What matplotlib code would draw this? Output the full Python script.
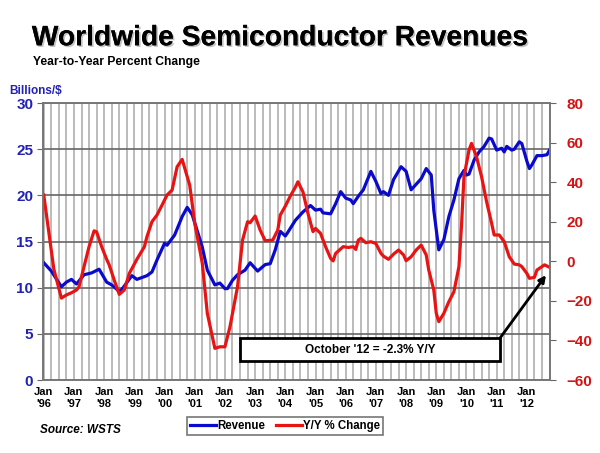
import matplotlib.pyplot as plt
import matplotlib.patheffects as pe
from matplotlib.patches import Rectangle
import numpy as np

plt.rcParams['font.family'] = ['Liberation Sans', 'DejaVu Sans']

# month index: 0 = Jan '96
rev_month = [0, 3, 7, 9, 11, 13, 16, 19, 22, 25, 27, 30, 31, 35, 37, 41, 43, 45, 48, 49,
             52, 55, 57, 59, 63, 65, 68, 70, 72, 73, 75, 77, 80, 82, 85, 88, 90, 92, 94, 96,
             97, 100, 103, 106, 108, 110, 111, 114, 116, 118, 120, 122, 123, 125, 127, 130,
             132, 134, 135, 137, 139, 142, 144, 146, 148, 150, 152, 154, 155, 157, 159, 161,
             163, 165, 167, 168, 169, 171, 173, 175, 177, 178, 180, 182, 183, 184, 186, 187,
             189, 190, 192, 193, 194, 196, 198, 200, 201]
rev_value = [12.7, 11.8, 10.1, 10.6, 10.9, 10.4, 11.4, 11.6, 12.0, 10.6, 10.3, 9.6, 9.8, 11.3,
             10.9, 11.3, 11.7, 13.0, 14.8, 14.6, 15.7, 17.7, 18.7, 17.9, 14.4, 11.9, 10.3, 10.5,
             9.9, 9.9, 10.8, 11.4, 11.9, 12.7, 11.8, 12.5, 12.6, 14.1, 16.1, 15.6, 16.0, 17.3,
             18.2, 18.9, 18.4, 18.5, 18.1, 18.0, 19.1, 20.4, 19.7, 19.5, 19.1, 19.9, 20.6, 22.6,
             21.5, 20.2, 20.4, 20.0, 21.7, 23.1, 22.6, 20.6, 21.2, 21.8, 22.9, 22.2, 18.4, 14.1,
             15.2, 17.7, 19.5, 21.8, 22.7, 22.2, 22.3, 23.8, 24.7, 25.3, 26.2, 26.1, 24.9, 25.1,
             24.7, 25.3, 24.9, 25.0, 25.8, 25.6, 23.7, 22.9, 23.3, 24.3, 24.3, 24.4, 24.9]

yoy_month = [0, 4, 7, 9, 11, 13, 14, 16, 18, 20, 21, 23, 25, 26, 28, 30, 32, 34, 37, 40,
             41, 43, 45, 47, 49, 51, 53, 55, 58, 60, 63, 65, 68, 70, 72, 74, 77, 79, 81, 82,
             84, 86, 88, 91, 93, 94, 96, 98, 100, 101, 103, 105, 107, 108, 110, 112, 114, 115,
             116, 119, 121, 123, 124, 125, 126, 128, 130, 132, 134, 135, 137, 139, 141, 143,
             144, 146, 148, 150, 152, 153, 155, 156, 157, 159, 161, 163, 165, 166, 167, 169,
             170, 172, 174, 176, 178, 179, 181, 183, 185, 187, 189, 190, 192, 193, 195, 196,
             198, 199, 201]
yoy_value = [33.5, -4, -18.6, -17, -15.9, -14.5, -12.9, -2.7, 7.4, 15.4, 14.9, 7.4, 1, -1.8,
             -9.5, -16.7, -14.5, -6.1, 1, 7.4, 12.4, 20, 23.4, 28.4, 33.5, 36, 47.8, 51.5, 38.5,
             19.2, -1, -26.3, -44, -43.2, -43.2, -33.1, -12.9, 10.7, 20, 19.5, 22.9, 15.8, 10.4,
             10.7, 15.8, 23.4, 27.9, 33, 37.5, 40.2, 35.1, 24.2, 15, 16.6, 14.1, 7.4, 1.5, 0.2,
             4, 7.4, 7, 7.4, 6, 10.7, 11.6, 9.4, 9.9, 9, 4, 2.6, 1, 3.6, 5.7, 3.2, 0.3, 2.3, 5.7,
             8.2, 3.2, -4.4, -14.5, -26.3, -30.5, -26.3, -20.4, -15.4, -2.7, 17.5, 42.7, 56.2,
             59.6, 52.8, 42.7, 30.1, 19.2, 13.3, 13.3, 9.9, 2.3, -1.4, -1.8, -2.7, -6.1, -8.6,
             -8.1, -4.4, -2.7, -1.8, -3.0]

year_labels = ["Jan\n'96", "Jan\n'97", "Jan\n'98", "Jan\n'99", "Jan\n'00", "Jan\n'01",
               "Jan\n'02", "Jan\n'03", "Jan\n'04", "Jan\n'05", "Jan\n'06", "Jan\n'07",
               "Jan\n'08", "Jan\n'09", "Jan\n'10", "Jan\n'11", "Jan\n'12"]

blue = '#0a0acc'
red = '#e81414'
blue_txt = '#2222b4'
red_txt = '#d21414'

fig = plt.figure(figsize=(6, 4.53), dpi=100)
ax = fig.add_axes([0.0717, 0.1611, 0.845, 0.6115])
ax2 = ax.twinx()

ax.plot(rev_month, rev_value, color=blue, lw=2.3, label='Revenue', solid_joinstyle='round')
ax2.plot(yoy_month, yoy_value, color=red, lw=2.3, label='Y/Y % Change', solid_joinstyle='round')

ax.set_xlim(-0.3, 201.2)
ax.set_ylim(0, 30)
ax2.set_ylim(-60, 80)

# quarterly vertical grid, horizontal grid on the left scale
ax.set_xticks(np.arange(0, 202, 3), minor=True)
ax.set_xticks(np.arange(0, 202, 12))
ax.set_xticklabels(year_labels, fontsize=8, fontweight='bold', linespacing=1.2)
ax.grid(which='minor', axis='x', color='#a8a8a8', lw=1.1, zorder=0)
ax.grid(which='major', axis='x', color='#a8a8a8', lw=1.1, zorder=0)
ax.grid(which='major', axis='y', color='#666666', lw=1.2, zorder=0)
ax.tick_params(axis='x', which='both', length=0, pad=5)

ax.set_yticks(np.arange(0, 31, 5))
ax.tick_params(axis='y', length=4, color='#666666', labelsize=11, labelcolor=blue_txt, pad=3)
for t in ax.get_yticklabels():
    t.set_fontweight('bold')
ax2.set_yticks(np.arange(-60, 81, 20))
ax2.tick_params(axis='y', length=4, color='#666666', labelsize=11, labelcolor=red_txt, pad=8)
for t in ax2.get_yticklabels():
    t.set_fontweight('bold')

for a in (ax, ax2):
    for s in a.spines.values():
        s.set_color('#777777')
        s.set_linewidth(1.2)

# title block
fig.text(0.053, 0.9, 'Worldwide Semiconductor Revenues', fontsize=20.3, fontweight='bold',
         path_effects=[pe.withSimplePatchShadow(offset=(1.2, -1.2), shadow_rgbFace='#888888', alpha=0.5), pe.Normal()])
fig.text(0.055, 0.857, 'Year-to-Year Percent Change', fontsize=8.7, fontweight='bold')
fig.text(0.015, 0.792, 'Billions/$', fontsize=8.5, fontweight='bold', color=blue_txt)
fig.text(0.067, 0.045, 'Source: WSTS', fontsize=8.5, fontweight='bold', fontstyle='italic')

# callout box and arrow
box = Rectangle((0.3886, 0.0686), 0.5128, 0.083, transform=ax.transAxes,
                facecolor='white', edgecolor='black', lw=2, zorder=5, clip_on=False)
ax2.add_patch(box)
ax2.text(0.645, 0.11, "October '12 = -2.3% Y/Y", transform=ax.transAxes, ha='center',
         va='center', fontsize=8.5, fontweight='bold', zorder=6)
ax2.annotate('', xy=(199.6, -7), xycoords='data', xytext=(0.9014, 0.1516),
             textcoords=ax.transAxes,
             arrowprops=dict(arrowstyle='-|>', color='black', lw=2, mutation_scale=10,
                             shrinkA=0, shrinkB=0), zorder=6)

h1, l1 = ax.get_legend_handles_labels()
h2, l2 = ax2.get_legend_handles_labels()
leg = fig.legend(h1 + h2, l1 + l2, loc='center', bbox_to_anchor=(0.475, 0.0595), ncol=2,
                 fancybox=False, edgecolor='#777777', fontsize=8.3, handlelength=2.2,
                 handletextpad=0.1, columnspacing=1.0, borderpad=0.25, framealpha=1)
for t in leg.get_texts():
    t.set_fontweight('bold')
leg.get_frame().set_linewidth(1.2)

plt.savefig('out.png', dpi=100)
